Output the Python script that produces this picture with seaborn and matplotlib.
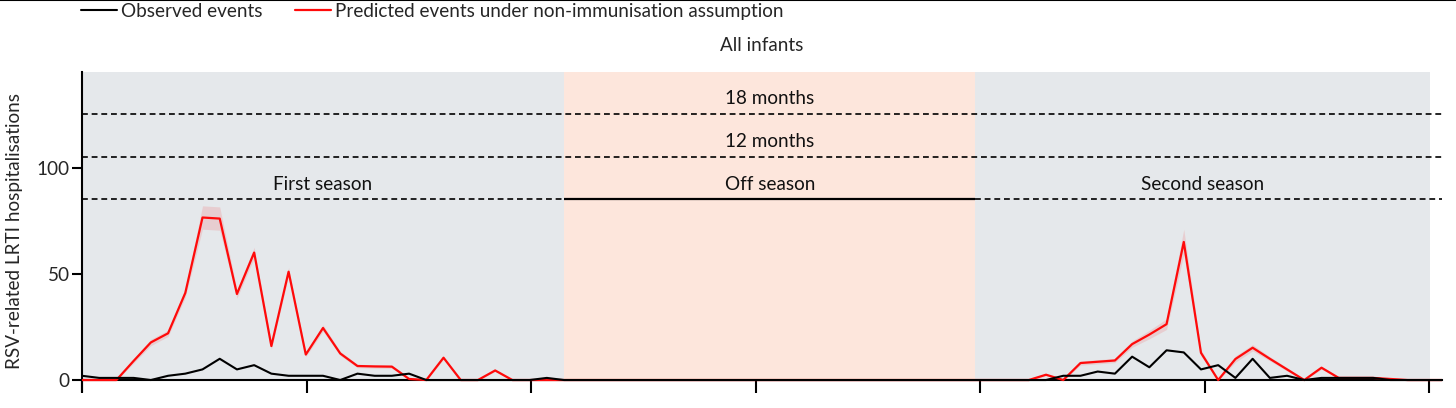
import numpy as np
import pandas as pd
import matplotlib
matplotlib.use("Agg")
import matplotlib.pyplot as plt
from matplotlib.lines import Line2D
import seaborn as sns

# ---------------- data ----------------
weeks = list(range(80))
observed = [2, 1, 1, 1, 0, 2, 3, 5, 10, 5, 7, 3, 2, 2, 2, 0, 3, 2, 2, 3,
            0, 0, 0, 0, 0, 0, 0, 1, 0, 0, 0, 0, 0, 0, 0, 0, 0, 0, 0, 0,
            0, 0, 0, 0, 0, 0, 0, 0, 0, 0, 0, 0, 0, 0, 0, 0, 0, 2, 2, 4,
            3, 11, 6, 14, 13, 5, 7, 1, 10, 1, 2, 0, 1, 1, 1, 1, 0, 0, 0, 0]
predicted = [0, 0, 0, 9, 17.7, 22, 41, 76.5, 76, 40.5, 60, 16, 51, 12, 24.5, 12.5, 6.6, 6.4, 6.3, 0.5,
             0, 10.5, 0, 0, 4.5, 0, 0, 0, 0, 0, 0, 0, 0, 0, 0, 0, 0, 0, 0, 0,
             0, 0, 0, 0, 0, 0, 0, 0, 0, 0, 0, 0, 0, 0, 0, 0, 2.5, 0, 8, 8.6,
             9.2, 16.9, 21.4, 26.3, 65, 12.8, 0, 9.9, 15.2, 10, 5, 0, 5.8, 1, 1, 1, 0.5, 0, 0, 0]
pred_band = [0.3, 0.3, 0.3, 1, 1.5, 1.5, 2, 5.5, 5.5, 2, 2.5, 1.5, 2, 1, 1.5, 1, 0.8, 0.8, 0.8, 0.4,
             0.3, 0.8, 0.3, 0.3, 0.5, 0.3, 0.3, 0.3, 0.3, 0.3, 0.3, 0.3, 0.3, 0.3, 0.3, 0.3, 0.3, 0.3, 0.3, 0.3,
             0.3, 0.3, 0.3, 0.3, 0.3, 0.3, 0.3, 0.3, 0.3, 0.3, 0.3, 0.3, 0.3, 0.3, 0.3, 0.3, 0.5, 0.3, 1, 1,
             1, 1.5, 2, 2.5, 6, 1.5, 0.3, 1.5, 1.5, 1, 0.8, 0.3, 0.7, 0.4, 0.4, 0.4, 0.3, 0.3, 0.3, 0.3]

season_names = ["First season", "Off season", "Second season"]
season_start = [0, 28, 51.9]
season_end = [28, 51.9, 78.3]
season_colors = ["#e5e8eb", "#fde6dc", "#e5e8eb"]

duration_labels = ["12 months", "18 months"]
duration_levels = [105, 125]
season_level = 85

tick_months = [0, 3, 6, 9, 12, 15, 18]
legend_labels = ["Observed events", "Predicted events under non-immunisation assumption"]
title = "All infants"
ylabel = "RSV-related LRTI hospitalisations"

# ---------------- style ----------------
FS = 13.6
sns.set_theme(style="white")
plt.rcParams["font.family"] = ["Lato", "DejaVu Sans"]
plt.rcParams["font.size"] = FS

fig = plt.figure(figsize=(14.56, 4.08), dpi=100)
ax = fig.add_axes([82 / 1456, 1 - 390.65 / 408, (1442 - 82) / 1456, (390.65 - 72) / 408])

ymax = 145
for s, e, c in zip(season_start, season_end, season_colors):
    ax.fill_between([s, e], 0, ymax, color=c, lw=0, zorder=0)

df = pd.DataFrame({"week": weeks, "observed": observed, "predicted": predicted, "band": pred_band})

ax.fill_between(df["week"], df["predicted"] - df["band"], df["predicted"] + df["band"],
                color="#f08080", alpha=0.25, lw=0, zorder=2)
sns.lineplot(data=df, x="week", y="predicted", color="#ff0a0a", lw=1.6, ax=ax, zorder=3)
sns.lineplot(data=df, x="week", y="observed", color="black", lw=1.5, ax=ax, zorder=4)

dash = (0, (3.5, 2.3))
for lvl in duration_levels:
    ax.axhline(lvl, color="black", lw=1.2, ls=dash, zorder=5)
ax.hlines(season_level, 0, season_start[1], color="black", lw=1.2, ls=dash, zorder=5)
ax.hlines(season_level, season_start[2], 79, color="black", lw=1.2, ls=dash, zorder=5)
ax.hlines(season_level, season_start[1], season_start[2], color="black", lw=1.6, zorder=5)

for name, s, e in zip(season_names, season_start, season_end):
    ax.text((s + e) / 2, season_level + 7, name, ha="center", va="center", fontsize=FS, color="#111111")
mid_off = (season_start[1] + season_end[1]) / 2
for lab, lvl in zip(duration_labels, duration_levels):
    ax.text(mid_off, lvl + 7.5, lab, ha="center", va="center", fontsize=FS, color="#111111")

ax.set_xlim(0, 79)
ax.set_ylim(-5, ymax)
ax.set_yticks([0, 50, 100])
week_ticks = [m * 365.25 / 12 / 7 for m in tick_months]
ax.set_xticks(week_ticks)
ax.set_xticklabels([])
ax.set_xlabel("")
ax.set_ylabel(ylabel, fontsize=FS, labelpad=10)
ax.set_title(title, fontsize=FS, pad=15)

for sp in ["top", "right"]:
    ax.spines[sp].set_visible(False)
ax.spines["bottom"].set_position(("data", 0))
ax.spines["bottom"].set_linewidth(1.5)
ax.spines["left"].set_linewidth(1.5)
ax.spines["bottom"].set_color("black")
ax.spines["left"].set_color("black")
ax.tick_params(axis="x", direction="out", length=9.5, width=1.5, color="black", bottom=True)
ax.tick_params(axis="y", direction="out", length=7, width=1.5, color="black", left=True,
               labelsize=FS, pad=2)

handles = [Line2D([], [], color="black", lw=1.5), Line2D([], [], color="#ff0a0a", lw=1.6)]
fig.legend(handles, legend_labels, loc="upper left", bbox_to_anchor=(64 / 1456, 1.035),
           ncol=2, frameon=False, fontsize=FS, handlelength=1.9, handletextpad=0.2,
           columnspacing=1.75)
fig.add_artist(Line2D([0, 1], [0.999, 0.999], transform=fig.transFigure, color="black", lw=1.5))

fig.savefig("out.png", dpi=100)
